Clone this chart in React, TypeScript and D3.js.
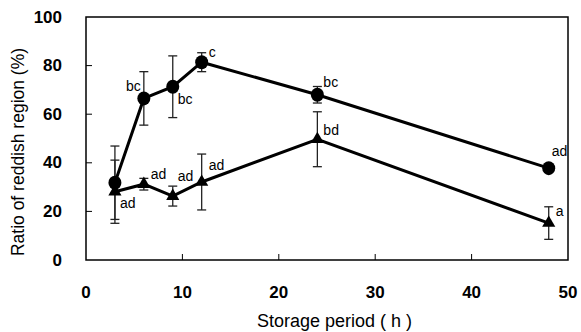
import * as d3 from "d3";

const hours = [3, 6, 9, 12, 24, 48];
const circleMean = [31.8, 66.5, 71.3, 81.4, 68.0, 37.8];
const circleSd = [15.1, 11.0, 12.7, 3.9, 3.4, 0];
const circleLabels = ["", "bc", "bc", "c", "bc", "ad"];
const triMean = [28.1, 31.2, 26.3, 32.1, 49.7, 15.2];
const triSd = [13.0, 2.4, 4.1, 11.5, 11.3, 6.7];
const triLabels = ["ad", "ad", "ad", "ad", "bd", "a"];
const xTicks = [0, 10, 20, 30, 40, 50];
const yTicks = [0, 20, 40, 60, 80, 100];

// label placement offsets (px) relative to the marker
const circleLabelOffset: [number, number, string][] = [
  [0, 0, "start"],
  [-3, -12, "end"],
  [5, 12, "start"],
  [7, -10, "start"],
  [6, -13, "start"],
  [3, -17, "start"],
];
const triLabelOffset: [number, number, string][] = [
  [5, 11, "start"],
  [7, -10, "start"],
  [5, -20, "start"],
  [7, -17, "start"],
  [6, -9, "start"],
  [7, -12, "start"],
];

const W = 581;
const H = 332;
const m = { left: 86, right: 13, top: 17, bottom: 72 };
const font = "'Liberation Sans', Arial, sans-serif";

export default function App() {
  const x = d3.scaleLinear().domain([0, 50]).range([m.left, W - m.right]);
  const y = d3.scaleLinear().domain([0, 100]).range([H - m.bottom, m.top]);
  const line = d3
    .line<number>()
    .x((_, i) => x(hours[i]))
    .y((d) => y(d));

  const errBars = (mean: number[], sd: number[], key: string) =>
    mean.map((v, i) => {
      if (!sd[i]) return null;
      const cx = x(hours[i]);
      const y1 = y(v + sd[i]);
      const y2 = y(v - sd[i]);
      return (
        <g key={key + i} stroke="#222" strokeWidth={1.3}>
          <line x1={cx} x2={cx} y1={y1} y2={y2} />
          <line x1={cx - 4.5} x2={cx + 4.5} y1={y1} y2={y1} />
          <line x1={cx - 4.5} x2={cx + 4.5} y1={y2} y2={y2} />
        </g>
      );
    });

  const tri = d3.symbol().type(d3.symbolTriangle).size(75)() || "";

  return (
    <div style={{ position: "fixed", left: 0, top: 0 }}>
      <svg width={W} height={H} style={{ display: "block", background: "#fff" }}>
        {/* frame */}
        <rect
          x={x(0)}
          y={y(100)}
          width={x(50) - x(0)}
          height={y(0) - y(100)}
          fill="none"
          stroke="#000"
          strokeWidth={1.5}
        />
        {yTicks.map((t) => (
          <g key={"y" + t}>
            {t > 0 && t < 100 && (
              <line x1={x(0)} x2={x(0) + 6} y1={y(t)} y2={y(t)} stroke="#000" strokeWidth={1} />
            )}
            <text
              x={62}
              y={y(t)}
              textAnchor="end"
              dominantBaseline="central"
              fontFamily={font}
              fontSize={17}
              fontWeight="bold"
            >
              {t}
            </text>
          </g>
        ))}
        {xTicks.map((t) => (
          <g key={"x" + t}>
            {t > 0 && t < 50 && (
              <line x1={x(t)} x2={x(t)} y1={y(0)} y2={y(0) - 6} stroke="#000" strokeWidth={1} />
            )}
            <text
              x={x(t)}
              y={298}
              textAnchor="middle"
              fontFamily={font}
              fontSize={17}
              fontWeight="bold"
            >
              {t}
            </text>
          </g>
        ))}
        <text
          transform={`translate(24,152) rotate(-90)`}
          textAnchor="middle"
          fontFamily={font}
          fontSize={17.5}
        >
          Ratio of reddish region (%)
        </text>
        <text x={257} y={327} textAnchor="start" fontFamily={font} fontSize={18}>
          Storage period ( h )
        </text>

        {errBars(circleMean, circleSd, "ce")}
        {errBars(triMean, triSd, "te")}

        <path d={line(circleMean) || ""} fill="none" stroke="#000" strokeWidth={3} />
        <path d={line(triMean) || ""} fill="none" stroke="#000" strokeWidth={3} />

        {circleMean.map((v, i) => (
          <ellipse key={"c" + i} cx={x(hours[i])} cy={y(v)} rx={6.5} ry={7} fill="#000" />
        ))}
        {triMean.map((v, i) => (
          <path key={"t" + i} d={tri} transform={`translate(${x(hours[i])},${y(v)})`} fill="#000" />
        ))}

        {circleLabels.map((l, i) =>
          l ? (
            <text
              key={"cl" + i}
              x={x(hours[i]) + circleLabelOffset[i][0]}
              y={y(circleMean[i]) + circleLabelOffset[i][1]}
              textAnchor={circleLabelOffset[i][2] as any}
              dominantBaseline="central"
              fontFamily={font}
              fontSize={14}
            >
              {l}
            </text>
          ) : null
        )}
        {triLabels.map((l, i) => (
          <text
            key={"tl" + i}
            x={x(hours[i]) + triLabelOffset[i][0]}
            y={y(triMean[i]) + triLabelOffset[i][1]}
            textAnchor={triLabelOffset[i][2] as any}
            dominantBaseline="central"
            fontFamily={font}
            fontSize={14}
          >
            {l}
          </text>
        ))}
      </svg>
    </div>
  );
}
